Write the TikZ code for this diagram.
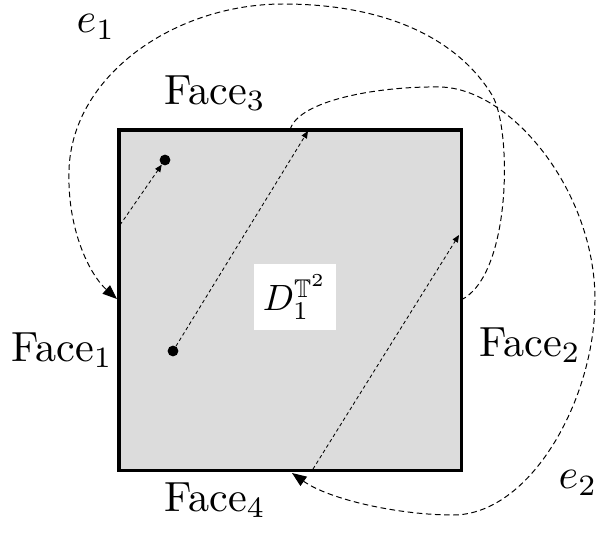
\documentclass[tikz,border=0pt]{standalone}
\usepackage{amsmath,amssymb}
\usetikzlibrary{arrows.meta,positioning,calc}
\definecolor{tqGray}{HTML}{DCDCDC}
\tikzset{
  sqbox/.style={draw=black, fill=tqGray, line width=2.2pt, minimum width=8.55cm, minimum height=8.5cm, inner sep=0pt},
  facelbl/.style={font=\normalsize, scale=3, inner sep=1pt},
  dlbl/.style={fill=white, font=\normalsize, scale=2.6, minimum width=0.79cm, minimum height=0.64cm, inner sep=1pt},
  pt/.style={circle, fill=black, inner sep=0pt, minimum size=0.27cm},
  glue/.style={dash pattern=on 4pt off 2.5pt, line width=0.7pt, -{Triangle[length=0.36cm,width=0.28cm]}},
  flow/.style={dash pattern=on 2.5pt off 2pt, line width=0.6pt, -{Triangle[length=0.18cm,width=0.15cm]}},
}
\begin{document}
\begin{tikzpicture}[x=0.025cm,y=-0.025cm]
  \useasboundingbox (0,0) rectangle (603,532);
  % the square
  \node[sqbox] (sq) at (290,300) {};
  \node[dlbl] (d) at (295,297) {$D_1^{\mathbb{T}^2}$};
  % faces
  \node[facelbl] (f1) at (62,350) {Face$_1$};
  \node[facelbl] (f2) at (530,345) {Face$_2$};
  \node[facelbl] (f3) at (215,93) {Face$_3$};
  \node[facelbl] (f4) at (215,500) {Face$_4$};
  \node[facelbl] (e1) at (96,27) {$e_1$};
  \node[facelbl] (e2) at (578,483) {$e_2$};
  % path inside
  \node[pt] (pa) at (173,351) {};
  \node[pt] (pb) at (165,160) {};
  \coordinate (top1) at (308,131);
  \coordinate (bot1) at (313,469);
  \coordinate (rgt1) at (459,235);
  \coordinate (lft1) at (120,225);
  \draw[flow] (pa) -- (top1);
  \draw[flow] (bot1) -- (rgt1);
  \draw[flow] (lft1) -- (pb);
  % gluing curves
  \coordinate (rgt2) at (461,300);
  \coordinate (lft2) at (117,299);
  \coordinate (top2) at (290,130);
  \coordinate (bot2) at (292,473);
  \draw[glue] (rgt2) .. controls (512,275) and (512,128) .. (492,95)
    .. controls (455,35) and (380,4) .. (283,4)
    .. controls (175,4) and (72,75) .. (69,170)
    .. controls (67,230) and (90,275) .. (lft2);
  \draw[glue] (top2) .. controls (298,100) and (380,86) .. (440,87)
    .. controls (510,88) and (595,190) .. (595,300)
    .. controls (595,400) and (530,515) .. (453,515)
    .. controls (400,515) and (330,500) .. (bot2);
\end{tikzpicture}
\end{document}
